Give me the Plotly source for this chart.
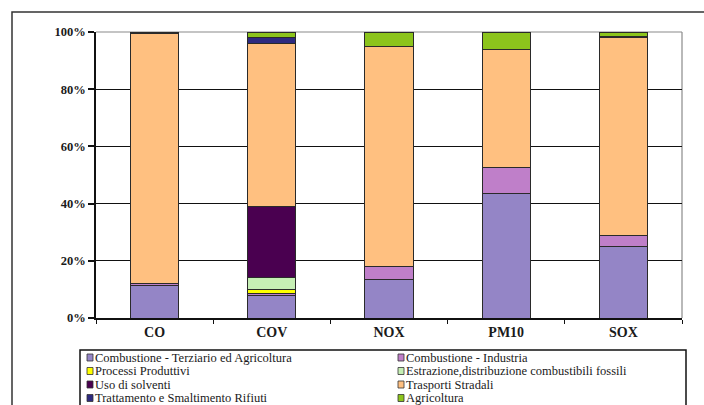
import plotly.graph_objects as go

categories = ["CO", "COV", "NOX", "PM10", "SOX"]

series_names = [
    "Combustione - Terziario ed Agricoltura",
    "Combustione - Industria",
    "Processi Produttivi",
    "Estrazione,distribuzione combustibili fossili",
    "Uso di solventi",
    "Trasporti Stradali",
    "Trattamento e Smaltimento Rifiuti",
    "Agricoltura",
]

terziario = [11.5, 8.0, 13.3, 43.5, 25.0]
industria = [0.7, 0.5, 4.7, 9.0, 3.7]
processi = [0.0, 1.5, 0.0, 0.0, 0.0]
estrazione = [0.0, 4.0, 0.0, 0.0, 0.0]
solventi = [0.0, 25.0, 0.0, 0.0, 0.0]
trasporti = [87.3, 57.0, 77.0, 41.5, 69.3]
trattamento = [0.0, 2.0, 0.0, 0.0, 0.5]
agricoltura = [0.5, 2.0, 5.0, 6.0, 1.5]

series_values = [terziario, industria, processi, estrazione, solventi,
                 trasporti, trattamento, agricoltura]

colors = ["#9485C6", "#BF7FC9", "#FFFF00", "#C6EFB4", "#4A0050",
          "#FFC080", "#2E2A80", "#8CC41C"]

y_tick_vals = [0, 20, 40, 60, 80, 100]
y_tick_text = ["0%", "20%", "40%", "60%", "80%", "100%"]

SERIF = "Liberation Serif, Times New Roman, serif"

W, H = 704, 405
L, R, T, B = 96, 682, 32, 318


def px(x):
    return (x - L) / (R - L)


def py(y):
    return (B - y) / (B - T)


fig = go.Figure()
for name, vals, col in zip(series_names, series_values, colors):
    fig.add_trace(go.Bar(
        x=categories, y=vals, name=name,
        marker=dict(color=col, line=dict(color="#2a2a2a", width=1)),
        showlegend=False,
    ))

shapes = []
annotations = []

# outer chart frame
shapes.append(dict(type="rect", xref="paper", yref="paper",
                   x0=px(12), x1=px(712), y0=py(430), y1=py(12),
                   line=dict(color="#333333", width=1.5), layer="below"))
# plot area border (top/right)
shapes.append(dict(type="line", xref="paper", yref="paper",
                   x0=0, x1=1, y0=1, y1=1,
                   line=dict(color="#8a8a8a", width=1.2), layer="below"))
shapes.append(dict(type="line", xref="paper", yref="paper",
                   x0=1, x1=1, y0=0, y1=1,
                   line=dict(color="#8a8a8a", width=1.2), layer="below"))
# legend box
shapes.append(dict(type="rect", xref="paper", yref="paper",
                   x0=px(80), x1=px(686), y0=py(430), y1=py(350),
                   line=dict(color="#111111", width=1.5),
                   fillcolor="white", layer="above"))

col_x = [87, 398]
row_y = [357.5, 371, 384.5, 398]
for i, (name, col) in enumerate(zip(series_names, colors)):
    c = i % 2
    r = i // 2
    mx = col_x[c]
    my = row_y[r]
    shapes.append(dict(type="rect", xref="paper", yref="paper",
                       x0=px(mx), x1=px(mx + 6), y0=py(my + 3.5), y1=py(my - 3.5),
                       line=dict(color="#333333", width=0.8), fillcolor=col,
                       layer="above"))
    annotations.append(dict(xref="paper", yref="paper", x=px(mx + 7), y=py(my),
                            xanchor="left", yanchor="middle", showarrow=False,
                            text=name, borderpad=0,
                            font=dict(family=SERIF, size=12.5,
                                      color="#1a1a1a")))

fig.update_layout(
    width=W, height=H,
    margin=dict(l=L, r=W - R, t=T, b=H - B, pad=0),
    barmode="stack",
    bargap=0.59,
    plot_bgcolor="white",
    paper_bgcolor="white",
    shapes=shapes,
    annotations=annotations,
    showlegend=False,
    font=dict(family=SERIF),
    xaxis=dict(
        showline=True, linecolor="#111111", linewidth=1.5,
        ticks="outside", tickson="boundaries", ticklen=4,
        tickcolor="#111111", tickwidth=1,
        tickfont=dict(family=SERIF, size=14, color="#1a1a1a"),
        showgrid=False,
    ),
    yaxis=dict(
        range=[0, 100], tickvals=y_tick_vals, ticktext=y_tick_text,
        showline=True, linecolor="#111111", linewidth=1.5,
        ticks="outside", ticklen=6, tickcolor="#111111", tickwidth=1.5,
        tickfont=dict(family=SERIF, size=12.5, color="#1a1a1a"),
        showgrid=True, gridcolor="#111111", gridwidth=1.3,
        zeroline=False,
    ),
)
fig.update_yaxes(ticktext=["<b>%s</b>" % t for t in y_tick_text])
fig.update_xaxes(tickvals=categories, ticktext=["<b>%s</b>" % c for c in categories])

fig.write_html("out.html")
